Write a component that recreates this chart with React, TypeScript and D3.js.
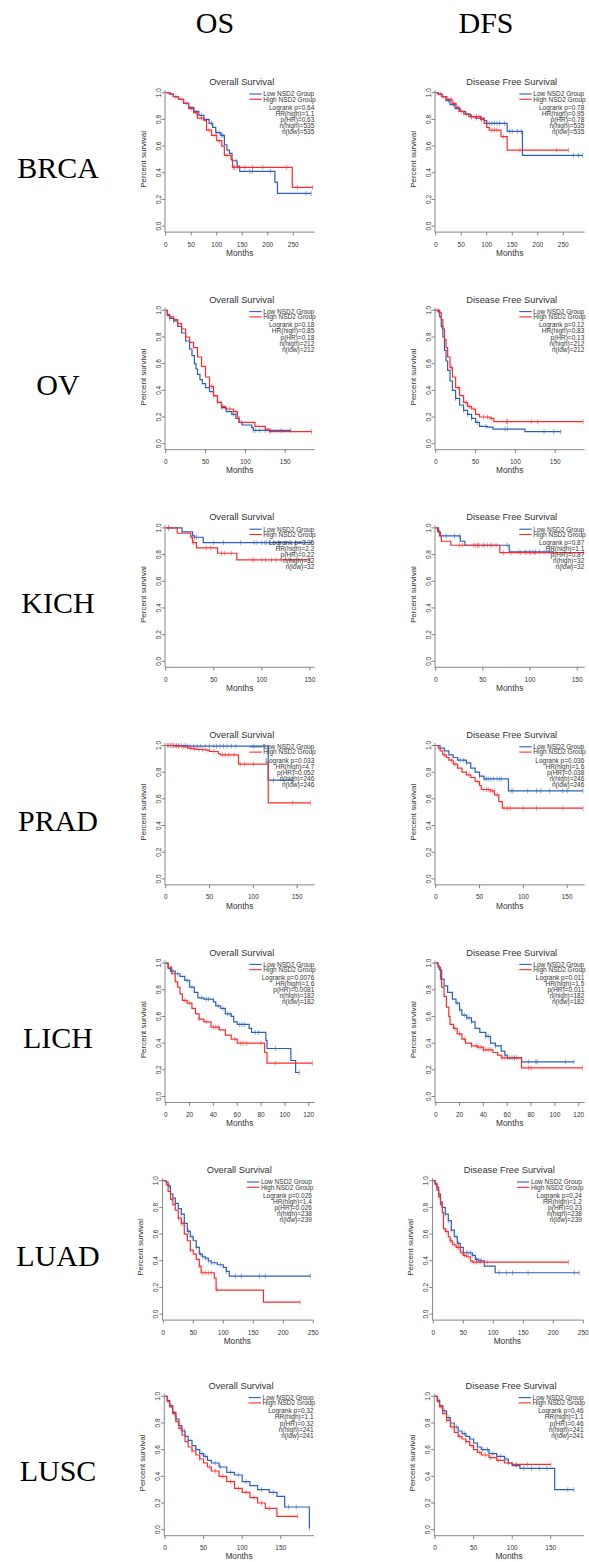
import React from 'react';
import * as d3 from 'd3';

type Step = [number, number];

const rowNames = ['BRCA', 'OV', 'KICH', 'PRAD', 'LICH', 'LUAD', 'LUSC'];
const colNames = ['OS', 'DFS'];
const panelTitles = ['Overall Survival', 'Disease Free Survival'];
const groupNames = ['Low NSD2 Group', 'High NSD2 Group'];
const yTicks = [0, 0.2, 0.4, 0.6, 0.8, 1.0];

const ticks250 = [0, 50, 100, 150, 200, 250];
const ticks150 = [0, 50, 100, 150];
const ticks120 = [0, 20, 40, 60, 80, 100, 120];

// BRCA
const brcaOsLow: Step[] = [[0, 1], [8, 0.99], [15, 0.97], [25, 0.95], [35, 0.92], [45, 0.89], [55, 0.86], [65, 0.83], [75, 0.8], [85, 0.77], [92, 0.74], [98, 0.7], [108, 0.68], [115, 0.61], [120, 0.57], [125, 0.545], [130, 0.49], [140, 0.45], [145, 0.41], [214, 0.33], [219, 0.245]];
const brcaOsLowCensor = [20, 40, 55, 70, 90, 100, 105, 110, 112, 138, 165, 170, 205, 275, 285];
const brcaOsHigh: Step[] = [[0, 1], [8, 0.99], [15, 0.97], [25, 0.95], [35, 0.92], [45, 0.88], [55, 0.85], [62, 0.81], [75, 0.79], [80, 0.72], [90, 0.68], [100, 0.64], [110, 0.6], [115, 0.53], [128, 0.5], [131, 0.44], [248, 0.29]];
const brcaOsHighCensor = [30, 50, 60, 70, 85, 95, 105, 120, 133, 135, 140, 155, 170, 190, 237, 258, 288];
const brcaOsStats = ['Logrank p=0.64', 'HR(high)=1.1', 'p(HR)=0.63', 'n(high)=535', 'n(low)=535'];

const brcaDfsLow: Step[] = [[0, 1], [5, 0.99], [12, 0.97], [20, 0.94], [28, 0.91], [38, 0.88], [48, 0.86], [58, 0.84], [68, 0.82], [78, 0.81], [95, 0.79], [100, 0.77], [140, 0.71], [170, 0.53]];
const brcaDfsLowCensor = [10, 25, 35, 45, 60, 70, 80, 88, 90, 100, 105, 110, 115, 120, 125, 135, 145, 150, 160, 168, 270, 280, 288];
const brcaDfsHigh: Step[] = [[0, 1], [5, 0.99], [12, 0.97], [22, 0.95], [32, 0.92], [40, 0.89], [46, 0.86], [55, 0.84], [65, 0.82], [88, 0.8], [95, 0.77], [100, 0.74], [105, 0.72], [128, 0.67], [140, 0.57]];
const brcaDfsHighCensor = [15, 30, 35, 50, 70, 75, 80, 85, 90, 110, 115, 120, 133, 165, 237, 260];
const brcaDfsStats = ['Logrank p=0.78', 'HR(high)=0.95', 'p(HR)=0.78', 'n(high)=535', 'n(low)=535'];

// OV
const ovOsLow: Step[] = [[0, 1], [2, 0.96], [5, 0.94], [10, 0.92], [15, 0.88], [20, 0.83], [25, 0.77], [30, 0.71], [33, 0.66], [36, 0.6], [38, 0.56], [40, 0.52], [43, 0.48], [46, 0.45], [50, 0.42], [55, 0.39], [60, 0.36], [65, 0.31], [70, 0.27], [76, 0.24], [83, 0.22], [88, 0.19], [92, 0.16], [96, 0.14], [108, 0.12], [110, 0.1]];
const ovOsLowCensor = [5, 10, 60, 70, 85, 95, 110, 113, 118, 125, 132, 145, 157];
const ovOsHigh: Step[] = [[0, 1], [2, 0.97], [5, 0.95], [10, 0.93], [15, 0.9], [20, 0.86], [25, 0.8], [30, 0.76], [35, 0.72], [40, 0.65], [45, 0.58], [50, 0.5], [55, 0.43], [60, 0.36], [65, 0.31], [70, 0.28], [75, 0.26], [85, 0.24], [90, 0.2], [92, 0.16], [112, 0.13], [125, 0.11], [130, 0.09]];
const ovOsHighCensor = [10, 15, 58, 65, 72, 80, 88, 130, 183];
const ovOsStats = ['Logrank p=0.18', 'HR(high)=0.85', 'p(HR)=0.18', 'n(high)=212', 'n(low)=212'];

const ovDfsLow: Step[] = [[0, 1], [3, 0.99], [5, 0.95], [7, 0.88], [9, 0.8], [11, 0.7], [13, 0.62], [15, 0.55], [18, 0.47], [21, 0.4], [25, 0.34], [30, 0.29], [35, 0.25], [40, 0.22], [45, 0.19], [50, 0.16], [55, 0.13], [65, 0.125], [72, 0.11], [112, 0.09]];
const ovDfsLowCensor = [4, 8, 25, 35, 40, 45, 52, 63, 87, 90, 136, 148, 157];
const ovDfsHigh: Step[] = [[0, 1], [5, 0.98], [7, 0.93], [9, 0.86], [11, 0.78], [13, 0.72], [15, 0.65], [18, 0.57], [21, 0.5], [25, 0.42], [30, 0.36], [35, 0.31], [40, 0.28], [45, 0.26], [50, 0.22], [55, 0.2], [68, 0.19], [73, 0.165]];
const ovDfsHighCensor = [3, 20, 28, 38, 42, 48, 60, 65, 70, 89, 90, 120, 128, 185];
const ovDfsStats = ['Logrank p=0.12', 'HR(high)=0.83', 'p(HR)=0.13', 'n(high)=212', 'n(low)=212'];

// KICH
const kichOsLow: Step[] = [[0, 1], [17, 0.97], [28, 0.94], [30, 0.93], [39, 0.89]];
const kichOsLowCensor = [3, 30, 32, 50, 60, 78, 92, 95, 100, 103, 105, 108, 112, 118, 125, 135, 145, 152];
const kichOsHigh: Step[] = [[0, 1], [12, 0.96], [26, 0.93], [28, 0.89], [32, 0.85], [54, 0.81], [74, 0.76]];
const kichOsHighCensor = [3, 27, 29, 42, 47, 58, 61, 68, 90, 92, 100, 104, 110, 115, 120, 130, 150];
const kichOsStats = ['Logrank p=0.35', 'HR(high)=2.2', 'p(HR)=0.22', 'n(high)=32', 'n(low)=32'];

const kichDfsLow: Step[] = [[0, 1], [3, 0.97], [4, 0.94], [26, 0.9], [31, 0.87], [78, 0.82]];
const kichDfsLowCensor = [11, 20, 25, 45, 52, 58, 64, 76, 88, 95, 100, 103, 106, 110, 115, 120, 125];
const kichDfsHigh: Step[] = [[0, 1], [2, 0.97], [5, 0.94], [6, 0.9], [16, 0.87], [68, 0.815]];
const kichDfsHighCensor = [4, 25, 28, 40, 42, 44, 46, 50, 55, 60, 72, 80, 90, 96, 100, 105, 157];
const kichDfsStats = ['Logrank p=0.87', 'HR(high)=1.1', 'p(HR)=0.87', 'n(high)=32', 'n(low)=32'];

// PRAD
const pradOsLow: Step[] = [[0, 1], [25, 0.995], [117, 0.74]];
const pradOsLowCensor = [3, 6, 9, 12, 15, 18, 22, 25, 28, 32, 36, 40, 45, 50, 55, 58, 62, 66, 70, 75, 80, 100, 112, 123, 145];
const pradOsHigh: Step[] = [[0, 1], [10, 0.995], [20, 0.99], [25, 0.98], [30, 0.975], [35, 0.97], [45, 0.965], [50, 0.955], [60, 0.94], [62, 0.93], [83, 0.86], [117, 0.57]];
const pradOsHighCensor = [2, 5, 8, 12, 15, 20, 28, 33, 38, 42, 48, 55, 65, 68, 72, 78, 85, 90, 100, 145, 165];
const pradOsStats = ['Logrank p=0.033', 'HR(high)=4.7', 'p(HR)=0.052', 'n(high)=246', 'n(low)=246'];

const pradDfsLow: Step[] = [[0, 1], [5, 0.98], [10, 0.96], [15, 0.93], [20, 0.91], [25, 0.89], [35, 0.87], [40, 0.83], [45, 0.8], [50, 0.77], [55, 0.75], [83, 0.66]];
const pradDfsLowCensor = [28, 32, 35, 50, 56, 58, 60, 63, 66, 70, 73, 75, 86, 88, 105, 115, 120, 130, 145, 150, 168];
const pradDfsHigh: Step[] = [[0, 1], [3, 0.98], [5, 0.96], [8, 0.93], [12, 0.91], [15, 0.89], [20, 0.86], [25, 0.83], [30, 0.8], [35, 0.78], [40, 0.76], [45, 0.73], [50, 0.7], [52, 0.67], [62, 0.66], [67, 0.63], [72, 0.58], [76, 0.53]];
const pradDfsHighCensor = [10, 18, 22, 38, 48, 55, 58, 60, 63, 65, 70, 78, 82, 85, 100, 115, 145, 168];
const pradDfsStats = ['Logrank p=0.036', 'HR(high)=1.6', 'p(HR)=0.038', 'n(high)=246', 'n(low)=246'];

// LICH
const lichOsLow: Step[] = [[0, 1], [2, 0.96], [4, 0.94], [8, 0.92], [12, 0.9], [16, 0.87], [20, 0.82], [24, 0.78], [27, 0.74], [32, 0.73], [40, 0.71], [42, 0.68], [46, 0.66], [50, 0.62], [55, 0.6], [57, 0.56], [60, 0.54], [70, 0.51], [72, 0.48], [84, 0.42], [85, 0.36], [105, 0.27], [109, 0.18]];
const lichOsLowCensor = [6, 10, 18, 22, 30, 34, 36, 44, 48, 52, 54, 62, 64, 66, 75, 78, 92, 112];
const lichOsHigh: Step[] = [[0, 1], [2, 0.97], [5, 0.92], [8, 0.86], [10, 0.82], [12, 0.77], [14, 0.72], [18, 0.7], [22, 0.66], [25, 0.62], [28, 0.58], [32, 0.56], [38, 0.52], [45, 0.5], [50, 0.46], [55, 0.43], [60, 0.4], [83, 0.33], [85, 0.25]];
const lichOsHighCensor = [16, 20, 28, 34, 40, 42, 44, 58, 63, 65, 68, 80, 92, 123];
const lichOsStats = ['Logrank p=0.0076', 'HR(high)=1.6', 'p(HR)=0.0081', 'n(high)=182', 'n(low)=182'];

const lichDfsLow: Step[] = [[0, 1], [2, 0.98], [3, 0.95], [5, 0.88], [7, 0.83], [10, 0.78], [14, 0.73], [17, 0.7], [20, 0.65], [22, 0.61], [26, 0.59], [30, 0.56], [33, 0.51], [37, 0.48], [42, 0.45], [46, 0.4], [50, 0.38], [55, 0.34], [58, 0.31], [60, 0.29], [72, 0.26]];
const lichDfsLowCensor = [18, 20, 24, 26, 28, 30, 42, 44, 50, 60, 64, 66, 78, 84, 85, 109, 116];
const lichDfsHigh: Step[] = [[0, 1], [2, 0.97], [4, 0.88], [5, 0.82], [7, 0.75], [9, 0.67], [11, 0.6], [12, 0.54], [15, 0.51], [18, 0.47], [22, 0.43], [25, 0.4], [30, 0.38], [35, 0.37], [40, 0.35], [48, 0.33], [52, 0.31], [55, 0.29], [72, 0.215]];
const lichDfsHighCensor = [16, 20, 24, 30, 34, 36, 38, 40, 42, 44, 46, 56, 58, 62, 66, 68, 78, 80, 123];
const lichDfsStats = ['Logrank p=0.011', 'HR(high)=1.5', 'p(HR)=0.011', 'n(high)=182', 'n(low)=182'];

// LUAD
const luadOsLow: Step[] = [[0, 1], [5, 0.99], [8, 0.96], [12, 0.9], [16, 0.87], [20, 0.83], [25, 0.79], [30, 0.75], [35, 0.68], [40, 0.62], [45, 0.58], [50, 0.55], [55, 0.5], [60, 0.45], [65, 0.43], [70, 0.42], [75, 0.4], [80, 0.385], [90, 0.37], [100, 0.35], [105, 0.32], [110, 0.285]];
const luadOsLowCensor = [10, 20, 30, 42, 48, 55, 62, 66, 70, 75, 80, 85, 95, 105, 120, 130, 160, 170, 245];
const luadOsHigh: Step[] = [[0, 1], [5, 0.97], [8, 0.92], [12, 0.86], [16, 0.82], [20, 0.78], [25, 0.72], [30, 0.68], [35, 0.6], [40, 0.55], [45, 0.48], [50, 0.45], [55, 0.41], [60, 0.36], [63, 0.31], [85, 0.27], [88, 0.18], [167, 0.09]];
const luadOsHighCensor = [15, 25, 30, 33, 45, 60, 65, 70, 75, 80, 90, 228];
const luadOsStats = ['Logrank p=0.026', 'HR(high)=1.4', 'p(HR)=0.026', 'n(high)=238', 'n(low)=239'];

const luadDfsLow: Step[] = [[0, 1], [3, 0.98], [6, 0.95], [9, 0.9], [12, 0.84], [15, 0.8], [20, 0.75], [25, 0.7], [30, 0.63], [35, 0.58], [40, 0.53], [45, 0.5], [50, 0.46], [65, 0.44], [70, 0.41], [75, 0.4], [85, 0.36], [103, 0.31]];
const luadDfsLowCensor = [8, 12, 20, 25, 30, 38, 42, 55, 58, 62, 65, 72, 75, 78, 80, 110, 122, 132, 158, 235, 243];
const luadDfsHigh: Step[] = [[0, 1], [3, 0.97], [6, 0.93], [9, 0.88], [12, 0.82], [15, 0.76], [17, 0.64], [20, 0.62], [25, 0.58], [28, 0.55], [32, 0.52], [38, 0.5], [45, 0.46], [50, 0.44], [55, 0.43], [62, 0.4], [65, 0.39]];
const luadDfsHighCensor = [10, 14, 22, 28, 30, 35, 40, 42, 48, 52, 58, 62, 68, 72, 78, 85, 90, 225];
const luadDfsStats = ['Logrank p=0.24', 'HR(high)=1.2', 'p(HR)=0.23', 'n(high)=238', 'n(low)=239'];

// LUSC
const luscOsLow: Step[] = [[0, 1], [3, 0.97], [6, 0.93], [10, 0.88], [14, 0.83], [18, 0.78], [22, 0.74], [26, 0.7], [30, 0.67], [35, 0.63], [40, 0.6], [45, 0.57], [50, 0.55], [55, 0.52], [60, 0.5], [70, 0.47], [80, 0.43], [90, 0.41], [100, 0.36], [110, 0.33], [120, 0.3], [135, 0.28], [145, 0.25], [155, 0.17], [187, 0.01]];
const luscOsLowCensor = [8, 15, 25, 40, 48, 52, 65, 72, 85, 95, 105, 125, 140, 160, 170, 187];
const luscOsHigh: Step[] = [[0, 1], [3, 0.96], [6, 0.92], [10, 0.87], [14, 0.81], [18, 0.76], [22, 0.71], [26, 0.66], [30, 0.62], [35, 0.59], [40, 0.56], [45, 0.53], [50, 0.5], [55, 0.47], [60, 0.44], [70, 0.4], [80, 0.36], [90, 0.31], [100, 0.28], [110, 0.24], [120, 0.2], [130, 0.16], [145, 0.1]];
const luscOsHighCensor = [12, 20, 35, 45, 58, 65, 75, 85, 95, 105, 115, 125, 135, 172];
const luscOsStats = ['Logrank p=0.32', 'HR(high)=1.1', 'p(HR)=0.32', 'n(high)=241', 'n(low)=241'];

const luscDfsLow: Step[] = [[0, 1], [3, 0.97], [6, 0.93], [10, 0.89], [15, 0.84], [20, 0.8], [25, 0.77], [30, 0.74], [35, 0.72], [40, 0.7], [45, 0.68], [50, 0.65], [55, 0.62], [60, 0.6], [70, 0.57], [80, 0.55], [90, 0.53], [95, 0.5], [100, 0.48], [110, 0.46], [155, 0.3]];
const luscDfsLowCensor = [5, 12, 18, 28, 38, 45, 55, 62, 68, 75, 85, 92, 105, 115, 125, 135, 145, 172, 180];
const luscDfsHigh: Step[] = [[0, 1], [3, 0.96], [6, 0.92], [10, 0.87], [15, 0.82], [20, 0.77], [25, 0.73], [30, 0.7], [35, 0.68], [40, 0.66], [45, 0.63], [50, 0.6], [55, 0.58], [60, 0.56], [70, 0.54], [80, 0.52], [90, 0.5], [100, 0.49]];
const luscDfsHighCensor = [8, 15, 22, 32, 40, 48, 58, 65, 72, 82, 95, 105, 120, 150];
const luscDfsStats = ['Logrank p=0.46', 'HR(high)=1.1', 'p(HR)=0.46', 'n(high)=241', 'n(low)=241'];

interface PanelData {
  xMax: number;
  ticks: number[];
  low: Step[];
  lowCensor: number[];
  high: Step[];
  highCensor: number[];
  stats: string[];
}

const panels: PanelData[][] = [
  [
    { xMax: 292, ticks: ticks250, low: brcaOsLow, lowCensor: brcaOsLowCensor, high: brcaOsHigh, highCensor: brcaOsHighCensor, stats: brcaOsStats },
    { xMax: 292, ticks: ticks250, low: brcaDfsLow, lowCensor: brcaDfsLowCensor, high: brcaDfsHigh, highCensor: brcaDfsHighCensor, stats: brcaDfsStats },
  ],
  [
    { xMax: 187, ticks: ticks150, low: ovOsLow, lowCensor: ovOsLowCensor, high: ovOsHigh, highCensor: ovOsHighCensor, stats: ovOsStats },
    { xMax: 187, ticks: ticks150, low: ovDfsLow, lowCensor: ovDfsLowCensor, high: ovDfsHigh, highCensor: ovDfsHighCensor, stats: ovDfsStats },
  ],
  [
    { xMax: 155, ticks: ticks150, low: kichOsLow, lowCensor: kichOsLowCensor, high: kichOsHigh, highCensor: kichOsHighCensor, stats: kichOsStats },
    { xMax: 158, ticks: ticks150, low: kichDfsLow, lowCensor: kichDfsLowCensor, high: kichDfsHigh, highCensor: kichDfsHighCensor, stats: kichDfsStats },
  ],
  [
    { xMax: 170, ticks: ticks150, low: pradOsLow, lowCensor: pradOsLowCensor, high: pradOsHigh, highCensor: pradOsHighCensor, stats: pradOsStats },
    { xMax: 170, ticks: ticks150, low: pradDfsLow, lowCensor: pradDfsLowCensor, high: pradDfsHigh, highCensor: pradDfsHighCensor, stats: pradDfsStats },
  ],
  [
    { xMax: 125, ticks: ticks120, low: lichOsLow, lowCensor: lichOsLowCensor, high: lichOsHigh, highCensor: lichOsHighCensor, stats: lichOsStats },
    { xMax: 125, ticks: ticks120, low: lichDfsLow, lowCensor: lichDfsLowCensor, high: lichDfsHigh, highCensor: lichDfsHighCensor, stats: lichDfsStats },
  ],
  [
    { xMax: 250, ticks: ticks250, low: luadOsLow, lowCensor: luadOsLowCensor, high: luadOsHigh, highCensor: luadOsHighCensor, stats: luadOsStats },
    { xMax: 250, ticks: ticks250, low: luadDfsLow, lowCensor: luadDfsLowCensor, high: luadDfsHigh, highCensor: luadDfsHighCensor, stats: luadDfsStats },
  ],
  [
    { xMax: 193, ticks: ticks150, low: luscOsLow, lowCensor: luscOsLowCensor, high: luscOsHigh, highCensor: luscOsHighCensor, stats: luscOsStats },
    { xMax: 193, ticks: ticks150, low: luscDfsLow, lowCensor: luscDfsLowCensor, high: luscDfsHigh, highCensor: luscDfsHighCensor, stats: luscDfsStats },
  ],
];

const BLUE = '#2a5fc1';
const RED = '#ff2b2b';
const TXT = '#333';
const AX = '#555';
const SANS = '"Liberation Sans", Arial, Helvetica, sans-serif';
const SERIF = '"Liberation Serif", "Times New Roman", serif';

const survAt = (steps: Step[], t: number) => {
  let s = 1;
  for (const [tt, ss] of steps) if (tt <= t) s = ss;
  return s;
};

function Curve({ steps, censor, color, x, y }: { steps: Step[]; censor: number[]; color: string; x: d3.ScaleLinear<number, number>; y: d3.ScaleLinear<number, number> }) {
  const end = Math.max(censor[censor.length - 1], steps[steps.length - 1][0]);
  const pts: Step[] = [...steps, [end, steps[steps.length - 1][1]]];
  const line = d3.line<Step>().x(d => x(d[0])).y(d => y(d[1])).curve(d3.curveStepAfter);
  return (
    <g>
      <path d={line(pts) || ''} fill="none" stroke={color} strokeWidth={1.2} />
      {censor.map((t, i) => (
        <line key={i} x1={x(t)} x2={x(t)} y1={y(survAt(steps, t)) - 2.5} y2={y(survAt(steps, t)) + 2.5} stroke={color} strokeOpacity={0.65} strokeWidth={0.8} />
      ))}
    </g>
  );
}

function Panel({ p, x0, yTop, title }: { p: PanelData; x0: number; yTop: number; title: string }) {
  const w = p.xMax === 250 ? 150 : 149;
  const x = d3.scaleLinear().domain([0, p.xMax]).range([x0, x0 + w]);
  const y = d3.scaleLinear().domain([0, 1]).range([yTop + 133.4, yTop]);
  const axisY = y(-0.045);
  const axisX = x0 - 0.7;
  return (
    <g fontFamily={SANS}>
      <text x={x0 + 76} y={yTop - 7.6} fontSize={9.3} textAnchor="middle" fill={TXT}>{title}</text>
      <line x1={axisX} x2={x0 + w} y1={axisY} y2={axisY} stroke={AX} strokeWidth={0.7} />
      <line x1={axisX} x2={axisX} y1={y(1.02)} y2={axisY} stroke={AX} strokeWidth={0.7} />
      {p.ticks.map(t => (
        <g key={t}>
          <line x1={x(t)} x2={x(t)} y1={axisY} y2={axisY + 3.3} stroke={AX} strokeWidth={0.7} />
          <text x={x(t)} y={y(0) + 20.4} fontSize={6.5} textAnchor="middle" fill={TXT}>{t}</text>
        </g>
      ))}
      {yTicks.map(v => (
        <g key={v}>
          <line x1={axisX - 3.3} x2={axisX} y1={y(v)} y2={y(v)} stroke={AX} strokeWidth={0.7} />
          <text transform={`translate(${x0 - 5.2},${y(v)}) rotate(-90)`} fontSize={6.5} textAnchor="middle" fill={TXT}>{v.toFixed(1)}</text>
        </g>
      ))}
      <text x={x0 + 74} y={y(0) + 29.6} fontSize={8.3} textAnchor="middle" fill={TXT}>Months</text>
      <text transform={`translate(${x0 - 20.1},${y(0.5)}) rotate(-90)`} fontSize={8} textAnchor="middle" fill={TXT}>Percent survival</text>
      <Curve steps={p.low} censor={p.lowCensor} color={BLUE} x={x} y={y} />
      <Curve steps={p.high} censor={p.highCensor} color={RED} x={x} y={y} />
      {groupNames.map((g, i) => (
        <g key={g}>
          <line x1={x0 + 83.6} x2={x0 + 96} y1={yTop + 1.3 + i * 5.3} y2={yTop + 1.3 + i * 5.3} stroke={i === 0 ? BLUE : RED} strokeWidth={1.1} />
          <text x={x0 + 97.6} y={yTop + 3.6 + i * 5.3} fontSize={6.5} fill={TXT}>{g}</text>
        </g>
      ))}
      {p.stats.map((s, i) => (
        <text key={s} x={x0 + 148.6} y={yTop + 17.1 + i * 6.05} fontSize={6.5} textAnchor="end" fill={TXT}>{s}</text>
      ))}
    </g>
  );
}

export default function App() {
  const rowStep = 217.6;
  return (
    <svg width={589} height={1562} style={{ position: 'absolute', left: 0, top: 0, background: '#fff' }}>
      <rect width={589} height={1562} fill="#fff" />
      {colNames.map((c, i) => (
        <text key={c} x={i === 0 ? 215 : 486} y={33} fontFamily={SERIF} fontSize={30} textAnchor="middle" fill="#000">{c}</text>
      ))}
      {rowNames.map((r, ri) => {
        const yTop = 92.7 + rowStep * ri - (r === 'LUSC' ? 2 : 0);
        const shift = r === 'LUAD' ? -2.4 : r === 'LUSC' ? -0.7 : 0;
        return (
          <g key={r}>
            <text x={58} y={yTop + 85} fontFamily={SERIF} fontSize={30} textAnchor="middle" fill="#000">{r}</text>
            {panels[ri].map((p, ci) => (
              <Panel key={ci} p={p} x0={165.7 + 270 * ci + shift} yTop={yTop} title={panelTitles[ci]} />
            ))}
          </g>
        );
      })}
    </svg>
  );
}
